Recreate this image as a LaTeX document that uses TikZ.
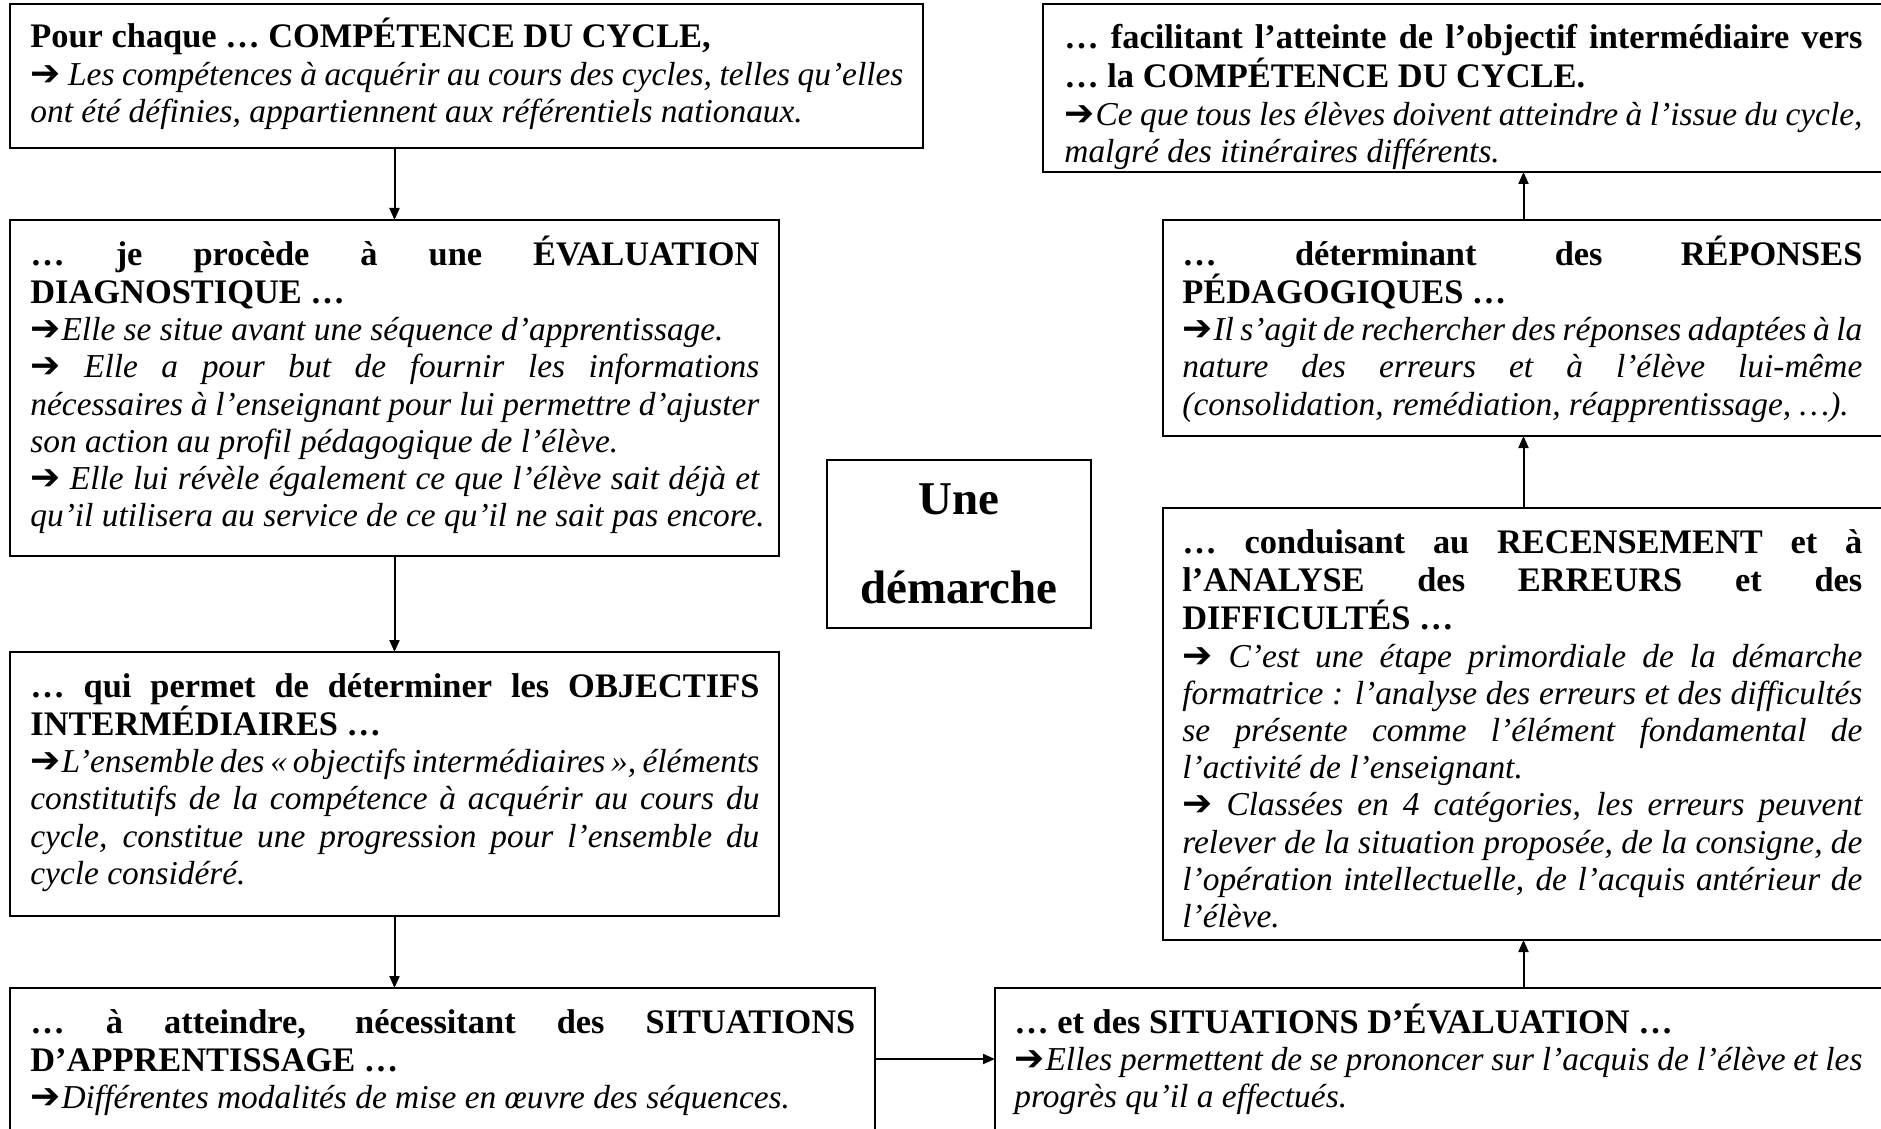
\documentclass[tikz,border=0pt]{standalone}
\usepackage{fontspec}
\setmainfont{Liberation Serif}
\newfontfamily\dejavu{DejaVu Sans}
\usetikzlibrary{arrows.meta}
\newcommand\hdf{\fontsize{17.2}{19.2}\selectfont\bfseries\upshape}
\newcommand\bdf{\fontsize{16.7}{18.6}\selectfont\itshape}
\newcommand\HJ[1]{{\baselineskip=19.2pt\hbox to\hsize{\hdf #1}}}
\newcommand\HE[1]{{\baselineskip=19.2pt\hbox{\hdf #1}}}
\newcommand\BJ[1]{{\baselineskip=18.6pt\hbox to\hsize{\bdf #1}}}
\newcommand\BE[1]{{\baselineskip=18.6pt\hbox{\bdf #1}}}
\newcommand\TB[2]{\vtop{\hsize=#1\relax\lineskiplimit=-20pt\lineskip=0pt #2}}
\newcommand\myarr{{\dejavu\upshape\mdseries\fontsize{18}{18}\selectfont ➔}}
\begin{document}
\begin{tikzpicture}[x=0.5pt,y=-0.5pt,
  box/.style={draw, line width=1pt, inner sep=0pt, outer sep=0pt},
  txt/.style={inner sep=0pt, anchor=base west},
  conn/.style={line width=1pt, -{Triangle[length=6pt,width=5pt]}}]
\useasboundingbox (0,0) rectangle (1881,1129);
\clip (0,0) rectangle (1881,1129);
\fill[white] (0,0) rectangle (1881,1129);

% boxes
\node[box, minimum width=456.5pt, minimum height=72pt] (b1) at (466.5,76) {};
\node[box, minimum width=384.5pt, minimum height=168pt] (b2) at (394.5,388) {};
\node[box, minimum width=384.5pt, minimum height=132pt] (b3) at (394.5,784) {};
\node[box, minimum width=432.5pt, minimum height=71pt] (b4) at (442.5,1059) {};
\node[box, minimum width=447.5pt, minimum height=71pt] (b5) at (1442.5,1059) {};
\node[box, minimum width=360.5pt, minimum height=216pt] (b6) at (1523.5,724) {};
\node[box, minimum width=360.5pt, minimum height=108pt] (b7) at (1523.5,328) {};
\node[box, minimum width=420.5pt, minimum height=84pt] (b8) at (1463.5,88) {};
\node[box, minimum width=132pt, minimum height=84pt] (c) at (959,544) {};

% centre title
\node[inner sep=0pt, anchor=base, font=\fontsize{23.5}{23.5}\selectfont\bfseries] (c1) at (959,514) {Une};
\node[inner sep=0pt, anchor=base, font=\fontsize{23.5}{23.5}\selectfont\bfseries] (c2) at (959,603) {démarche};

% texts
\node[txt] (t1) at (30,48) {\TB{436.5pt}{%
\HE{Pour chaque … COMPÉTENCE DU CYCLE,}
\BJ{\myarr\ Les compétences à acquérir au cours des cycles, telles qu’elles}
\BE{ont été définies, appartiennent aux référentiels nationaux.}}};

\node[txt] (t2) at (30,265) {\TB{364.5pt}{%
\HJ{… je procède à une ÉVALUATION}
\HE{DIAGNOSTIQUE …}
\BE{\myarr\kern0.5pt Elle se situe avant une séquence d’apprentissage.}
\BJ{\myarr\ Elle a pour but de fournir les informations}
\BJ{nécessaires à l’enseignant pour lui permettre d’ajuster}
\BE{son action au profil pédagogique de l’élève.}
\BJ{\myarr\ Elle lui révèle également ce que l’élève sait déjà et}
\BE{qu’il utilisera au service de ce qu’il ne sait pas encore.}}};

\node[txt] (t3) at (30,697) {\TB{364.5pt}{%
\HJ{… qui permet de déterminer les OBJECTIFS}
\HE{INTERMÉDIAIRES …}
\BJ{\myarr\kern0.5pt L’ensemble des « objectifs intermédiaires », éléments}
\BJ{constitutifs de la compétence à acquérir au cours du}
\BJ{cycle, constitue une progression pour l’ensemble du}
\BE{cycle considéré.}}};

\node[txt] (t4) at (30,1033) {\TB{412.5pt}{%
\HJ{… à atteindre, nécessitant des SITUATIONS}
\HE{D’APPRENTISSAGE …}
\BE{\myarr\kern0.5pt Différentes modalités de mise en œuvre des séquences.}}};

\node[txt] (t5) at (1014,1033) {\TB{424pt}{%
\HE{… et des SITUATIONS D’ÉVALUATION …}
\BJ{\myarr\kern0.5pt Elles permettent de se prononcer sur l’acquis de l’élève et les}
\BE{progrès qu’il a effectués.}}};

\node[txt] (t6) at (1182,553) {\TB{340pt}{%
\HJ{… conduisant au RECENSEMENT et à}
\HJ{l’ANALYSE des ERREURS et des}
\HE{DIFFICULTÉS …}
\BJ{\myarr\ C’est une étape primordiale de la démarche}
\BJ{formatrice : l’analyse des erreurs et des difficultés}
\BJ{se présente comme l’élément fondamental de}
\BE{l’activité de l’enseignant.}
\BJ{\myarr\ Classées en 4 catégories, les erreurs peuvent}
\BJ{relever de la situation proposée, de la consigne, de}
\BJ{l’opération intellectuelle, de l’acquis antérieur de}
\BE{l’élève.}}};

\node[txt] (t7) at (1182,265) {\TB{340pt}{%
\HJ{… déterminant des RÉPONSES}
\HE{PÉDAGOGIQUES …}
\BJ{\myarr\kern0.5pt Il s’agit de rechercher des réponses adaptées à la}
\BJ{nature des erreurs et à l’élève lui-même}
\BE{(consolidation, remédiation, réapprentissage, …).}}};

\node[txt] (t8) at (1064,49) {\TB{399pt}{%
\HJ{… facilitant l’atteinte de l’objectif intermédiaire vers}
\HE{… la COMPÉTENCE DU CYCLE.}
\vskip0.6pt
\BJ{\myarr\kern0.5pt Ce que tous les élèves doivent atteindre à l’issue du cycle,}
\BE{malgré des itinéraires différents.}}};

% connectors
\draw[conn] (b2.north |- b1.south) -- (b2.north);
\draw[conn] (b2.south) -- (b3.north);
\draw[conn] (b3.south) -- (b3.south |- b4.north);
\draw[conn] (b4.east) -- (b5.west);
\draw[conn] (b6.south |- b5.north) -- (b6.south);
\draw[conn] (b6.north) -- (b7.south);
\draw[conn] (b7.north) -- (b7.north |- b8.south);
\end{tikzpicture}
\end{document}
